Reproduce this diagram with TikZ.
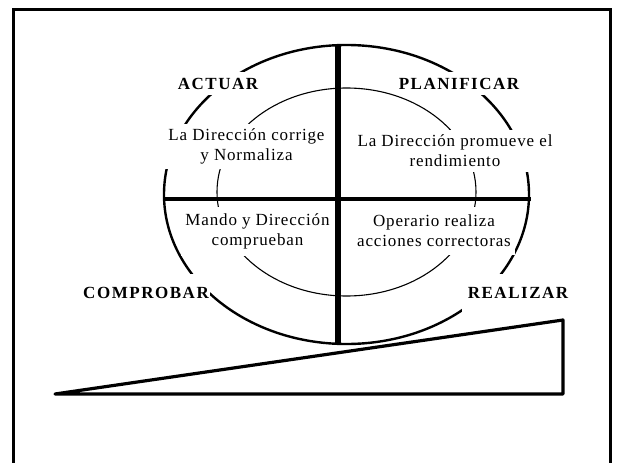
\documentclass[tikz,border=0pt]{standalone}
\usepackage{fontspec}
\setmainfont{Liberation Serif}[LetterSpace=5]
\newfontfamily\headfam{Liberation Serif}[LetterSpace=9]
\newcommand{\lblfont}{\fontsize{17}{20}\selectfont}
\newcommand{\headfont}{\headfam\fontsize{17}{20}\selectfont\bfseries}
\begin{document}
\begin{tikzpicture}[x=1pt,y=-1pt,
  frame/.style={line width=3pt},
  outerring/.style={line width=2.4pt},
  innerring/.style={line width=1.1pt},
  crossline/.style={line width=5.5pt},
  crossh/.style={line width=4pt},
  wedge/.style={line width=3.2pt, line join=round},
  lbl/.style={fill=white, inner sep=0pt, align=center, font=\lblfont},
  head/.style={fill=white, inner sep=0pt, align=center, font=\headfont}]
\clip (0,0) rectangle (619,463);
% frame (open at the bottom)
\draw[frame] (13,470) |- (610,9) -- (610,470);
% rings
\draw[outerring] (346.5,194.5) ellipse [x radius=182.5pt, y radius=149.5pt];
\draw[innerring] (346.5,192) ellipse [x radius=129.5pt, y radius=104pt];
% text boxes
\node[head, minimum width=95pt, minimum height=23pt] (act) at (218,83.5) {ACTUAR};
\node[head, minimum width=127pt, minimum height=23pt] (plan) at (459,83.5) {PLANIFICAR};
\node[lbl, minimum width=167pt, minimum height=45pt] (t1) at (246.5,146.5) {La Dirección corrige\\y Normaliza};
\node[lbl, minimum width=214pt, minimum height=42pt] (t2) at (455,151) {La Dirección promueve el\\rendimiento};
\node[lbl, minimum width=153pt, minimum height=49pt] (t3) at (257.5,231) {Mando y Dirección\\comprueban};
\node[lbl, minimum width=162pt, minimum height=48pt] (t4) at (434,231) {Operario realiza\\acciones correctoras};
\node[head, minimum width=128pt, minimum height=38pt] (comp) at (146,293) {COMPROBAR};
\node[head, minimum width=113pt, minimum height=38pt] (real) at (518,293) {REALIZAR};
% cross
\coordinate (vt) at (338,45);
\coordinate (vb) at (338,344);
\coordinate (hl) at (164,199);
\coordinate (hr) at (531,199);
\draw[crossline] (vt) -- (vb);
\draw[crossh] (hl) -- (hr);
% wedge
\coordinate (w1) at (55,394);
\coordinate (w2) at (563,320);
\coordinate (w3) at (563,394);
\draw[wedge] (w1) -- (w2) -- (w3) -- cycle;
\end{tikzpicture}
\end{document}
